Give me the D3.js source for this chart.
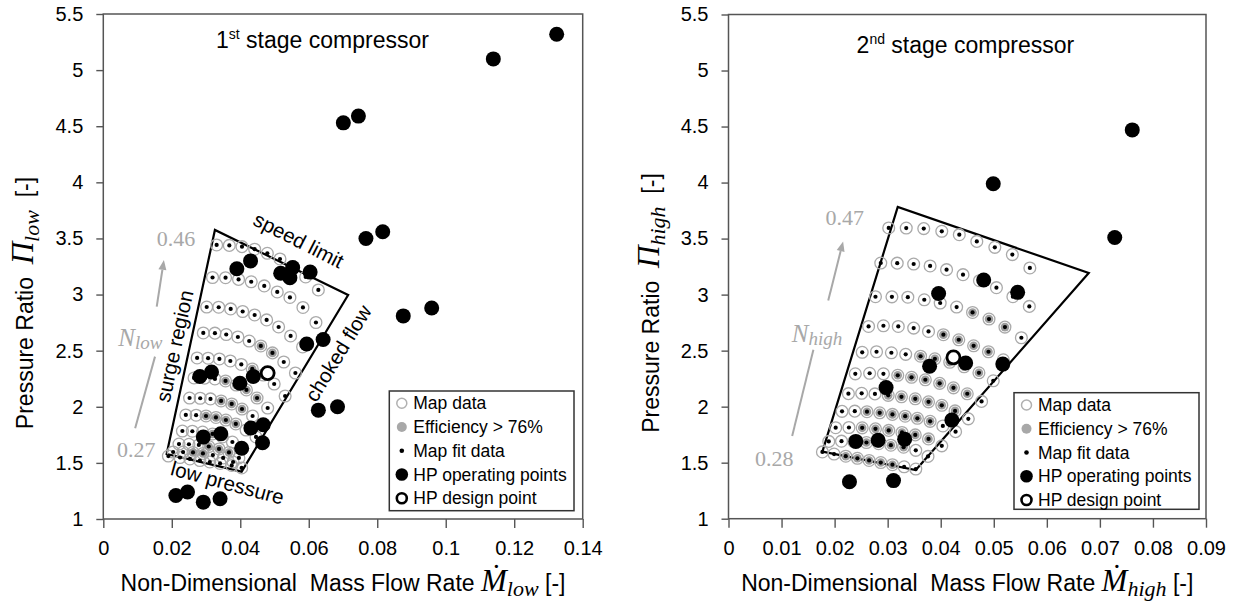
<!DOCTYPE html>
<html><head><meta charset="utf-8">
<script src="https://cdn.jsdelivr.net/npm/d3@7/dist/d3.min.js"></script>
<style>
body{margin:0;background:#fff}
svg{display:block}
text{white-space:pre}
</style></head><body>
<svg id="c" width="1237" height="603"></svg>
<script>
// ---------- shared ticks ----------
const yTicks = [1,1.5,2,2.5,3,3.5,4,4.5,5,5.5];
const xTicksLow = [0,0.02,0.04,0.06,0.08,0.1,0.12,0.14];
const xTicksHigh = [0,0.01,0.02,0.03,0.04,0.05,0.06,0.07,0.08,0.09];
const legendLabels = ["Map data","Efficiency > 76%","Map fit data","HP operating points","HP design point"];

// ---------- 1st stage (low) ----------
const lowMapX = [
 [0.0331,0.0368,0.0405,0.0442,0.0479,0.0516,0.0554,0.0591,0.0628],
 [0.0319,0.0357,0.0395,0.0432,0.0470,0.0508,0.0545,0.0583,0.0621],
 [0.0302,0.0337,0.0372,0.0407,0.0442,0.0477,0.0512,0.0547,0.0582],
 [0.0292,0.0326,0.0359,0.0393,0.0426,0.0460,0.0494,0.0527,0.0561],
 [0.0274,0.0306,0.0339,0.0371,0.0403,0.0435,0.0467,0.0499,0.0531],
 [0.0265,0.0296,0.0326,0.0357,0.0388,0.0418,0.0449,0.0480],
 [0.0252,0.0283,0.0313,0.0344,0.0375,0.0405,0.0436,0.0467],
 [0.0241,0.0271,0.0300,0.0329,0.0358,0.0387,0.0417,0.0446],
 [0.0231,0.0260,0.0290,0.0319,0.0348,0.0377,0.0406],
 [0.0221,0.0250,0.0279,0.0308,0.0338,0.0367,0.0396],
 [0.0204,0.0233,0.0262,0.0291,0.0320,0.0350,0.0379],
 [0.0190,0.0224,0.0253,0.0282,0.0311,0.0341,0.0375,0.0404]
];
const lowMapP = [
 [3.442,3.438,3.427,3.404,3.368,3.317,3.250,3.157,3.041],
 [3.152,3.150,3.135,3.114,3.077,3.023,2.974,2.885,2.751],
 [2.889,2.887,2.872,2.849,2.818,2.774,2.711,2.631,2.533],
 [2.658,2.656,2.644,2.622,2.586,2.542,2.480,2.399,2.301],
 [2.435,2.433,2.426,2.408,2.377,2.337,2.283,2.203,2.096],
 [2.257,2.255,2.248,2.230,2.194,2.150,2.078,1.989],
 [2.078,2.076,2.070,2.052,2.025,1.980,1.918,1.838],
 [1.927,1.925,1.918,1.905,1.882,1.847,1.793,1.731],
 [1.784,1.782,1.775,1.758,1.731,1.686,1.624],
 [1.668,1.666,1.660,1.646,1.624,1.593,1.544],
 [1.597,1.596,1.593,1.584,1.570,1.544,1.508],
 [1.561,1.548,1.535,1.521,1.508,1.495,1.477,1.455]
];
const lowEff = [[],[],[],[5,6],[5,6],[3,4,5,6],[3,4,5],[2,3,4,5],[3,4],[3,4,5],[2,3],[]];
const lowOpX = [0.1324,0.1139,0.0701,0.0745,0.0767,0.0816,0.0390,0.0430,0.0518,0.0553,0.0545,0.0604,0.0876,0.0959,0.0594,0.0642,0.0628,0.0684,0.0282,0.0316,0.0399,0.0438,0.0292,0.0343,0.0431,0.0467,0.0404,0.0465,0.0212,0.0246,0.0292,0.0341];
const lowOpP = [5.32,5.10,4.53,4.59,3.50,3.56,3.23,3.30,3.19,3.24,3.15,3.20,2.81,2.88,2.56,2.60,1.97,2.00,2.27,2.31,2.21,2.27,1.73,1.76,1.81,1.84,1.63,1.68,1.21,1.24,1.15,1.18];
const lowDesignX = [0.0480];
const lowDesignP = [2.30];
const lowBoundX = [0.0185,0.0326,0.0715,0.0404];
const lowBoundP = [1.579,3.576,2.996,1.422];
const lowSpeedLabels = ["0.46","0.27"];

// ---------- 2nd stage (high) ----------
const highMapX = [
 [0.0302,0.0335,0.0368,0.0402,0.0435,0.0468,0.0502,0.0535,0.0568],
 [0.0287,0.0318,0.0349,0.0380,0.0411,0.0442,0.0473,0.0505,0.0536,0.0567],
 [0.0277,0.0308,0.0338,0.0369,0.0399,0.0430,0.0460,0.0491,0.0521,0.0552],
 [0.0264,0.0292,0.0320,0.0349,0.0377,0.0405,0.0434,0.0462,0.0490,0.0518],
 [0.0252,0.0279,0.0307,0.0334,0.0362,0.0389,0.0417,0.0444,0.0472,0.0499],
 [0.0239,0.0266,0.0292,0.0319,0.0345,0.0371,0.0398,0.0424,0.0450,0.0477],
 [0.0226,0.0251,0.0276,0.0301,0.0326,0.0352,0.0377,0.0402,0.0427,0.0452],
 [0.0214,0.0238,0.0261,0.0285,0.0309,0.0333,0.0356,0.0380,0.0404,0.0428],
 [0.0202,0.0227,0.0252,0.0277,0.0302,0.0327,0.0352,0.0377,0.0402],
 [0.0189,0.0213,0.0236,0.0260,0.0283,0.0306,0.0330,0.0353,0.0376],
 [0.0177,0.0199,0.0221,0.0243,0.0265,0.0287,0.0309,0.0331,0.0353]
];
const highMapP = [
 [3.595,3.594,3.589,3.565,3.535,3.475,3.422,3.357,3.238],
 [3.282,3.281,3.273,3.256,3.223,3.178,3.124,3.062,2.981,2.895],
 [2.981,2.980,2.977,2.954,2.925,2.889,2.841,2.782,2.710,2.615],
 [2.716,2.722,2.716,2.701,2.671,2.642,2.597,2.543,2.490,2.418],
 [2.485,2.490,2.481,2.467,2.450,2.427,2.396,2.356,2.302,2.231],
 [2.293,2.298,2.293,2.280,2.262,2.240,2.208,2.168,2.115,2.047],
 [2.116,2.119,2.114,2.101,2.088,2.070,2.043,2.012,1.962,1.891],
 [1.958,1.960,1.955,1.945,1.931,1.915,1.896,1.869,1.828,1.777],
 [1.812,1.814,1.811,1.802,1.788,1.770,1.748,1.712,1.650],
 [1.690,1.692,1.687,1.680,1.669,1.656,1.638,1.610,1.556],
 [1.596,1.577,1.558,1.539,1.520,1.501,1.482,1.463,1.443]
];
const highEff = [[],[],[6,7,8],[5,6,7,8],[4,5,6,7,8],[3,4,5,6,7,8],[3,4,5,6,7,8],[2,3,4,5,6,7],[2,3,4,5,6,7],[2,3,4,5,6],[2,3,4,5,6]];
const highOpX = [0.0761,0.0499,0.0728,0.0481,0.0545,0.0396,0.0379,0.0447,0.0517,0.0297,0.0421,0.0240,0.0282,0.0332,0.0228,0.0311];
const highOpP = [4.47,3.99,3.51,3.13,3.02,3.01,2.36,2.39,2.38,2.17,1.88,1.69,1.70,1.71,1.33,1.34];
const highDesignX = [0.0424];
const highDesignP = [2.44];
const highBoundX = [0.0177,0.0319,0.0679,0.0353];
const highBoundP = [1.599,3.783,3.193,1.435];
const highSpeedLabels = ["0.47","0.28"];

const SERIF = '"Liberation Serif","DejaVu Serif",serif';
const SANS = '"Liberation Sans",Arial,sans-serif';
const svg = d3.select("#c").attr("font-family",SANS);

function panel(o){
  const x = d3.scaleLinear().domain([0,o.xMax]).range(o.xr);
  const y = d3.scaleLinear().domain([1,5.5]).range(o.yr);
  const g = svg.append("g");

  // axes
  const gx = g.append("g").attr("transform",`translate(0,${o.yr[0]})`)
    .call(d3.axisBottom(x).tickValues(o.xTicks).tickFormat(d=>String(d)).tickSize(9).tickPadding(13));
  const gy = g.append("g").attr("transform",`translate(${o.xr[0]},0)`)
    .call(d3.axisLeft(y).tickValues(yTicks).tickFormat(d=>String(d)).tickSize(7).tickPadding(13));
  [gx,gy].forEach(a=>{
    a.attr("font-family",SANS).attr("font-size",20);
    a.select(".domain").remove();
    a.selectAll(".tick line").attr("stroke","#555").attr("stroke-width",1.4);
    a.selectAll(".tick text").attr("fill","#000");
  });
  g.append("rect").attr("x",o.xr[0]).attr("y",o.yr[1])
    .attr("width",o.xr[1]-o.xr[0]).attr("height",o.yr[0]-o.yr[1])
    .attr("fill","none").attr("stroke","#555").attr("stroke-width",1.5);

  // boundary polygon
  const poly = o.bx.map((v,i)=>[x(v),y(o.bp[i])]);
  g.append("path").attr("d","M"+poly.map(p=>p.join(",")).join("L")+"Z")
    .attr("fill","none").attr("stroke","#000").attr("stroke-width",2.2).attr("stroke-linejoin","miter");

  // map points
  const pts = [];
  o.mx.forEach((row,r)=>row.forEach((v,i)=>pts.push({x:v,p:o.mp[r][i],eff:o.eff[r].includes(i)})));
  g.append("g").selectAll("circle").data(pts).join("circle")
    .attr("cx",d=>x(d.x)).attr("cy",d=>y(d.p)).attr("r",5.9)
    .attr("fill","none").attr("stroke","#aaaaaa").attr("stroke-width",1.3);
  g.append("g").selectAll("circle").data(pts.filter(d=>d.eff)).join("circle")
    .attr("cx",d=>x(d.x)).attr("cy",d=>y(d.p)).attr("r",4.3).attr("fill","#9d9d9d");
  g.append("g").selectAll("circle").data(pts).join("circle")
    .attr("cx",d=>x(d.x)).attr("cy",d=>y(d.p)).attr("r",2.1).attr("fill","#000");

  // HP operating points
  g.append("g").selectAll("circle").data(o.ox.map((v,i)=>({x:v,p:o.op[i]}))).join("circle")
    .attr("cx",d=>x(d.x)).attr("cy",d=>y(d.p)).attr("r",7.5).attr("fill","#000");
  g.append("g").selectAll("circle").data(o.dx.map((v,i)=>({x:v,p:o.dp[i]}))).join("circle")
    .attr("cx",d=>x(d.x)).attr("cy",d=>y(d.p)).attr("r",6.5)
    .attr("fill","#fff").attr("stroke","#000").attr("stroke-width",2.8);

  // boundary annotations
  o.ann.forEach(a=>{
    g.append("text").attr("transform",`translate(${x(a.x)},${y(a.p)}) rotate(${a.rot})`)
      .attr("text-anchor","middle").attr("dominant-baseline","central")
      .attr("font-size",20.5).attr("fill","#000").text(a.t);
  });

  // speed labels and arrow
  const grey = "#a8a8a8";
  g.append("text").attr("x",x(o.sTop[0])).attr("y",y(o.sTop[1])).attr("text-anchor","middle")
    .attr("dominant-baseline","central").attr("font-family",SERIF).attr("font-size",22).attr("fill",grey).text(o.sLabels[0]);
  g.append("text").attr("x",x(o.sBot[0])).attr("y",y(o.sBot[1])).attr("text-anchor","middle")
    .attr("dominant-baseline","central").attr("font-family",SERIF).attr("font-size",22).attr("fill",grey).text(o.sLabels[1]);
  const nt = g.append("text").attr("x",x(o.nPos[0])).attr("y",y(o.nPos[1])).attr("text-anchor","middle")
    .attr("dominant-baseline","central").attr("font-family",SERIF).attr("font-style","italic").attr("fill",grey);
  nt.append("tspan").attr("font-size",25).text("N");
  nt.append("tspan").attr("font-size",19).attr("dy",5).text(o.sub);
  const a1=[x(o.arrLow[0]),y(o.arrLow[1])], a2=[x(o.arrLow[2]),y(o.arrLow[3])];
  g.append("line").attr("x1",a1[0]).attr("y1",a1[1]).attr("x2",a2[0]).attr("y2",a2[1])
    .attr("stroke",grey).attr("stroke-width",2);
  const b1=[x(o.arrUp[0]),y(o.arrUp[1])], b2=[x(o.arrUp[2]),y(o.arrUp[3])];
  const ang = Math.atan2(b2[1]-b1[1],b2[0]-b1[0]);
  const hl=10, hw=4;
  const base=[b2[0]-hl*Math.cos(ang),b2[1]-hl*Math.sin(ang)];
  g.append("line").attr("x1",b1[0]).attr("y1",b1[1]).attr("x2",base[0]).attr("y2",base[1])
    .attr("stroke",grey).attr("stroke-width",2);
  g.append("path").attr("d",`M${b2[0]},${b2[1]}L${base[0]-hw*Math.sin(ang)},${base[1]+hw*Math.cos(ang)}L${base[0]+hw*Math.sin(ang)},${base[1]-hw*Math.cos(ang)}Z`)
    .attr("fill",grey);

  // title
  const tt = g.append("text").attr("x",o.title.x).attr("y",o.title.y).attr("font-size",23).attr("fill","#000");
  tt.append("tspan").text(o.title.n);
  tt.append("tspan").attr("font-size",14).attr("dy",-9).text(o.title.sup);
  tt.append("tspan").attr("dy",9).text(" stage compressor");

  // x-axis title
  const xc = (o.xr[0]+o.xr[1])/2;
  const xt = g.append("text").attr("x",xc).attr("y",591).attr("text-anchor","middle").attr("font-size",23).attr("fill","#000");
  xt.append("tspan").text("Non-Dimensional  Mass Flow Rate ");
  xt.append("tspan").attr("font-family",SERIF).attr("font-style","italic").attr("font-size",31).text("\u1E40");
  xt.append("tspan").attr("font-family",SERIF).attr("font-style","italic").attr("font-size",22).attr("dy",5).text(o.sub);
  xt.append("tspan").attr("dy",-5).text(" [-]");

  // y-axis title
  const yt = g.append("text").attr("transform",`translate(${o.xr[0]-70},303) rotate(-90)`)
    .attr("text-anchor","middle").attr("font-size",23).attr("fill","#000");
  yt.append("tspan").text("Pressure Ratio  ");
  yt.append("tspan").attr("font-family",SERIF).attr("font-style","italic").attr("font-size",31).text("\u03A0");
  yt.append("tspan").attr("font-family",SERIF).attr("font-style","italic").attr("font-size",22).attr("dy",6).text(o.sub);
  yt.append("tspan").attr("dy",-6).text("  [-]");

  // legend
  const L = o.leg;
  const lg = g.append("g");
  lg.append("rect").attr("x",L.x).attr("y",L.y).attr("width",L.w).attr("height",L.h)
    .attr("fill","#fff").attr("stroke","#333").attr("stroke-width",1.5);
  legendLabels.forEach((t,i)=>{
    const cy = L.y+12.3+i*23.75, cx = L.x+12.5;
    if(i===0) lg.append("circle").attr("cx",cx).attr("cy",cy).attr("r",5).attr("fill","none").attr("stroke","#b0b0b0").attr("stroke-width",1.5);
    if(i===1) lg.append("circle").attr("cx",cx).attr("cy",cy).attr("r",5).attr("fill","#a8a8a8");
    if(i===2) lg.append("circle").attr("cx",cx).attr("cy",cy).attr("r",2.3).attr("fill","#000");
    if(i===3) lg.append("circle").attr("cx",cx).attr("cy",cy).attr("r",6.3).attr("fill","#000");
    if(i===4) lg.append("circle").attr("cx",cx).attr("cy",cy).attr("r",5).attr("fill","#fff").attr("stroke","#000").attr("stroke-width",2.6);
    lg.append("text").attr("x",L.x+24).attr("y",cy).attr("dominant-baseline","central")
      .attr("font-size",17.5).attr("fill","#000").text(t);
  });
}

panel({
  xMax:0.14, xr:[103.3,582.7], yr:[519,14], xTicks:xTicksLow,
  mx:lowMapX, mp:lowMapP, eff:lowEff, ox:lowOpX, op:lowOpP, dx:lowDesignX, dp:lowDesignP,
  bx:lowBoundX, bp:lowBoundP, sub:"low", sLabels:lowSpeedLabels,
  sTop:[0.0212,3.502], sBot:[0.0096,1.615], nPos:[0.0108,2.62],
  arrLow:[0.0151,2.447,0.0093,1.808], arrUp:[0.0156,2.892,0.0177,3.309],
  ann:[{t:"speed limit",x:0.0571,p:3.487,rot:27},{t:"surge region",x:0.0207,p:2.542,rot:-77.8},
       {t:"choked flow",x:0.0685,p:2.479,rot:-58.7},{t:"low pressure",x:0.0363,p:1.325,rot:15}],
  title:{x:216,y:48.3,n:"1",sup:"st"},
  leg:{x:389.3,y:391,w:184.7,h:119.7}
});
panel({
  xMax:0.09, xr:[728.5,1206], yr:[518.7,14.5], xTicks:xTicksHigh,
  mx:highMapX, mp:highMapP, eff:highEff, ox:highOpX, op:highOpP, dx:highDesignX, dp:highDesignP,
  bx:highBoundX, bp:highBoundP, sub:"high", sLabels:highSpeedLabels,
  sTop:[0.0219,3.685], sBot:[0.0086,1.534], nPos:[0.0167,2.66],
  arrLow:[0.0160,2.508,0.0120,1.739], arrUp:[0.0188,2.948,0.0216,3.475],
  ann:[],
  title:{x:856.6,y:52.7,n:"2",sup:"nd"},
  leg:{x:1014,y:392.7,w:185,h:116.6}
});
</script></body></html>
